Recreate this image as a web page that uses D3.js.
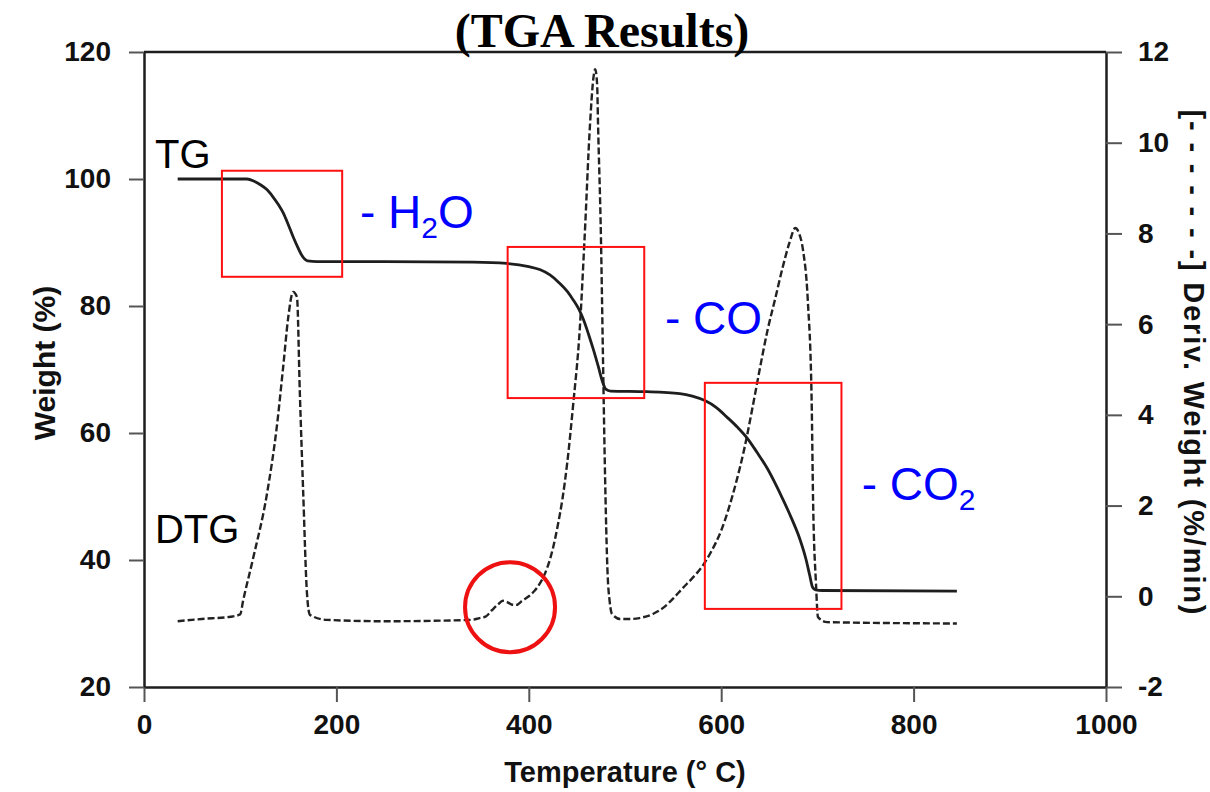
<!DOCTYPE html>
<html>
<head>
<meta charset="utf-8">
<script src="https://cdn.jsdelivr.net/npm/d3@7"></script>
<style>
  body { margin: 0; background: #fff; }
  svg { display: block; }
</style>
</head>
<body>
<div id="chart"></div>
<script>
// TG curve: [temperature (C), weight (%)]
var tgData = [
  [35,100],[60,100],[90,100],[107,100],[115,99.6],[121,99.1],[128,98.3],[134,97.2],
  [140,95.9],[145,94.6],[150,92.8],[155,90.9],[160,89.2],[164,88],[167,87.4],[170,87.1],
  [180,87],[250,87],[342,86.9],[377,86.7],[400,86.2],[412,85.7],[422,84.9],[432,83.6],
  [440,82.3],[446,81.0],[452,79.5],[457,77.8],[462,75.6],[467,73.2],[472,70.6],[477,67.9],
  [480,66.9],[485,66.6],[523,66.5],[557,66.2],[570,65.8],[583,65.1],[595,64.0],[606,62.5],
  [617,60.9],[627,59.2],[637,57.0],[648,54.4],[656,52.1],[664,49.6],[673,46.6],[682,43.2],
  [688,40.2],[692,37.6],[695,35.7],[698,35.3],[705,35.2],[845,35.1]
];

// DTG curve: [temperature (C), deriv. weight (%/min)]
var dtgData = [
  [35,-0.55],[60,-0.5],[90,-0.45],[100,-0.4],[103,-0.1],[113,0.8],[128,2.28],[138,3.73],
  [144.7,5.06],[150,6.16],[155,6.71],[159,6.6],[162,4.48],[165.5,2.28],[169.4,0.07],
  [172.5,-0.41],[190,-0.52],[250,-0.55],[340,-0.52],[349,-0.48],[355,-0.45],[362,-0.3],
  [368,-0.18],[373,-0.1],[377,-0.12],[382,-0.18],[387,-0.19],[393,-0.1],[400,0.0],
  [406,0.12],[412,0.3],[419,0.62],[425,1.05],[430,1.55],[435,2.15],[440,2.95],[446,4.2],
  [453,5.9],[458,7.9],[463.6,10.39],[467,11.4],[469,11.62],[471,11.3],[472,10.39],
  [475,7.9],[477,5.4],[479,2.94],[482,0.45],[484,-0.1],[486.5,-0.39],[495,-0.5],
  [505,-0.5],[515,-0.48],[529,-0.39],[540,-0.25],[550,-0.05],[560,0.18],[570,0.4],
  [580,0.65],[590,1.0],[600,1.45],[608,1.95],[616,2.55],[624,3.25],[632,4.1],[640,5.0],
  [648,5.85],[656,6.55],[664,7.26],[671,7.8],[677,8.12],[681,8.0],[685,7.64],[690,6.53],
  [694,4.33],[695.5,2.12],[698.5,0.29],[700.6,-0.46],[710,-0.57],[845,-0.6]
];

// tick values
var xTicks = [0, 200, 400, 600, 800, 1000];
var yLeftTicks = [20, 40, 60, 80, 100, 120];
var yRightTicks = [-2, 0, 2, 4, 6, 8, 10, 12];

// red boxes: temperature range and weight range
var boxes = [
  {t0: 81, t1: 206, w0: 84.6, w1: 101.3},
  {t0: 378, t1: 520, w0: 65.5, w1: 89.3},
  {t0: 583, t1: 725, w0: 32.3, w1: 67.9}
];

// size and layout
var w = 1210;
var h = 792;
var margin = {top: 52, right: 104, bottom: 105, left: 144};
var plotW = w - margin.left - margin.right;
var plotH = h - margin.top - margin.bottom;

var ink = "#1e1e1e";

var svg = d3.select("#chart")
  .append("svg")
  .attr("width", w)
  .attr("height", h)
  .style("font-family", "Liberation Sans, Arial, sans-serif");

var g = svg.append("g")
  .attr("transform", "translate(" + margin.left + "," + margin.top + ")");

//scales
var xScale = d3.scaleLinear().domain([0, 1000]).range([0, plotW]);
var yLeft = d3.scaleLinear().domain([20, 120]).range([plotH, 0]);
var yRight = d3.scaleLinear().domain([-2, 12]).range([plotH, 0]);

//axes
var xAxis = d3.axisBottom(xScale).tickValues(xTicks).tickSize(15).tickSizeOuter(0).tickPadding(12)
  .tickFormat(d3.format("d"));
var leftAxis = d3.axisLeft(yLeft).tickValues(yLeftTicks).tickSize(15).tickSizeOuter(0).tickPadding(18);
var rightAxis = d3.axisRight(yRight).tickValues(yRightTicks).tickSize(16).tickSizeOuter(0).tickPadding(16)
  .tickFormat(function(d) { return d < 0 ? "-" + Math.abs(d) : d; });

function styleAxis(sel) {
  sel.select(".domain").attr("stroke", ink).attr("stroke-width", 2.5);
  sel.selectAll(".tick line").attr("stroke", "#555").attr("stroke-width", 2);
  sel.selectAll(".tick text")
    .attr("fill", "#111")
    .attr("font-size", "28px")
    .attr("font-weight", "bold")
    .attr("font-family", "Liberation Sans, Arial, sans-serif");
}

g.append("g").attr("transform", "translate(0," + plotH + ")").call(xAxis).call(styleAxis);
g.append("g").call(leftAxis).call(styleAxis);
g.append("g").attr("transform", "translate(" + plotW + ",0)").call(rightAxis).call(styleAxis);

// top border
g.append("line")
  .attr("x1", 0).attr("x2", plotW)
  .attr("y1", 0).attr("y2", 0)
  .attr("stroke", ink).attr("stroke-width", 2.5);

//lines
var tgLine = d3.line()
  .x(function(d) { return xScale(d[0]); })
  .y(function(d) { return yLeft(d[1]); })
  .curve(d3.curveMonotoneX);

var dtgLine = d3.line()
  .x(function(d) { return xScale(d[0]); })
  .y(function(d) { return yRight(d[1]); })
  .curve(d3.curveMonotoneX);

g.append("path")
  .datum(dtgData)
  .attr("d", dtgLine)
  .attr("fill", "none")
  .attr("stroke", "#222")
  .attr("stroke-width", 2.4)
  .attr("stroke-dasharray", "7,3");

g.append("path")
  .datum(tgData)
  .attr("d", tgLine)
  .attr("fill", "none")
  .attr("stroke", ink)
  .attr("stroke-width", 2.8);

//red boxes
g.selectAll("rect.box")
  .data(boxes)
  .enter()
  .append("rect")
  .attr("class", "box")
  .attr("x", function(d) { return xScale(d.t0); })
  .attr("y", function(d) { return yLeft(d.w1); })
  .attr("width", function(d) { return xScale(d.t1) - xScale(d.t0); })
  .attr("height", function(d) { return yLeft(d.w0) - yLeft(d.w1); })
  .attr("fill", "none")
  .attr("stroke", "#ff1010")
  .attr("stroke-width", 2);

// red circle round the small shoulder
g.append("circle")
  .attr("cx", xScale(380.5))
  .attr("cy", yRight(-0.24))
  .attr("r", 45)
  .attr("fill", "none")
  .attr("stroke", "#ee1111")
  .attr("stroke-width", 4);

// curve names
g.append("text")
  .attr("x", xScale(11.4)).attr("y", yLeft(101.7))
  .attr("font-size", "40px").attr("fill", "#000")
  .text("TG");

g.append("text")
  .attr("x", xScale(11.4)).attr("y", yLeft(42.7))
  .attr("font-size", "40px").attr("fill", "#000")
  .text("DTG");

// loss labels (blue)
function lossLabel(t, wt, main, sub) {
  var txt = g.append("text")
    .attr("x", xScale(t)).attr("y", yLeft(wt))
    .attr("font-size", "46px")
    .attr("fill", "#0000ff");
  txt.append("tspan").text(main);
  if (sub) {
    txt.append("tspan").attr("font-size", "30px").attr("dy", 10).text(sub.s);
    if (sub.after) txt.append("tspan").attr("dy", -10).text(sub.after);
  }
}
lossLabel(224.5, 92.3, "- H", {s: "2", after: "O"});
lossLabel(541.6, 75.6, "- CO");
lossLabel(746, 49.4, "- CO", {s: "2"});

//title
svg.append("text")
  .attr("x", 602).attr("y", 47)
  .attr("text-anchor", "middle")
  .attr("font-family", "Liberation Serif, Times New Roman, serif")
  .attr("font-weight", "bold")
  .attr("font-size", "48px")
  .attr("fill", "#000")
  .text("(TGA Results)");

//axis titles
svg.append("text")
  .attr("x", 625).attr("y", 782)
  .attr("text-anchor", "middle")
  .attr("font-size", "29px").attr("font-weight", "bold").attr("fill", "#111")
  .text("Temperature (\u00B0 C)");

svg.append("text")
  .attr("transform", "translate(55,363) rotate(-90)")
  .attr("text-anchor", "middle")
  .attr("font-size", "30px").attr("font-weight", "bold").attr("fill", "#111")
  .text("Weight (%)");

svg.append("text")
  .attr("transform", "translate(1184,362) rotate(90)")
  .attr("text-anchor", "middle")
  .attr("font-size", "29px").attr("font-weight", "bold").attr("fill", "#111")
  .attr("textLength", 505)
  .attr("lengthAdjust", "spacing")
  .text("[- - - - - - -] Deriv. Weight (%/min)");
</script>
</body>
</html>
